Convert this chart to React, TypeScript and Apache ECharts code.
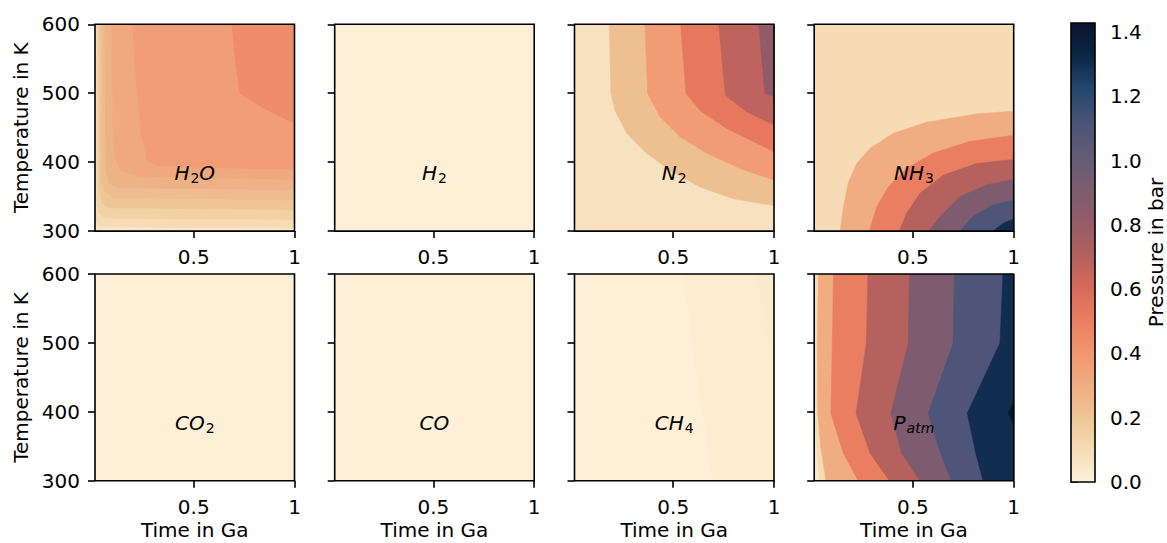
import React, { useEffect, useRef } from 'react';
import * as echarts from 'echarts';

// ---------- colour scale: Pressure in bar ----------
const pressureMin = 0;
const pressureMax = 1.428;
const colorbarTicks = [0, 0.2, 0.4, 0.6, 0.8, 1.0, 1.2, 1.4];
const colormap = ['#fdf1d8', '#f6dbb4', '#eec594', '#f0ac80', '#f29470', '#e97c5e', '#d4695a', '#b0605f', '#935b68', '#7a5c71', '#625a77', '#495378', '#23476d', '#0b2646', '#08152e'];

// ---------- axes ----------
const timeMin = 0.01;
const timeMax = 1;
const timeTicks = [0.5, 1];
const tempMin = 300;
const tempMax = 600;
const tempStep = 100;

// ---------- panels (value of each contour band, and band boundaries as [time, temperature]) ----------
const panelLabels = ['{i|H}{s|2}{i|O}', '{i|H}{s|2}', '{i|N}{s|2}', '{i|NH}{s|3}', '{i|CO}{s|2}', '{i|CO}', '{i|CH}{s|4}', '{i|P}{si|atm}'];

const h2oBands = [0.05, 0.1, 0.15, 0.2, 0.24, 0.28, 0.32, 0.37, 0.44];
const h2oBounds = [
  [[0.012, 600], [0.012, 330], [0.016, 312], [0.03, 307], [0.2, 306], [1, 305]],
  [[0.02, 600], [0.021, 345], [0.03, 326], [0.06, 319], [0.3, 318], [1, 317]],
  [[0.03, 600], [0.032, 360], [0.045, 340], [0.08, 334], [0.4, 333], [1, 331]],
  [[0.042, 600], [0.045, 375], [0.06, 356], [0.1, 349], [0.5, 347], [1, 345]],
  [[0.06, 600], [0.064, 390], [0.08, 370], [0.13, 363], [0.5, 362], [1, 360]],
  [[0.093, 600], [0.1, 450], [0.11, 405], [0.14, 388], [0.22, 380], [0.6, 377], [1, 375]],
  [[0.197, 600], [0.215, 520], [0.24, 440], [0.27, 402], [0.32, 395], [0.6, 392], [1, 390]],
  [[0.69, 600], [0.71, 540], [0.73, 500], [0.85, 478], [1, 456]],
];
const h2oClose = h2oBounds.map(() => [[1, 600]]);

const h2Bands = [0.005];
const h2Bounds: number[][][] = [];
const h2Close: number[][][] = [];

const n2Bands = [0.075, 0.225, 0.375, 0.525, 0.675, 0.825];
const n2Bounds = [
  [[0.183, 600], [0.191, 500], [0.211, 475], [0.269, 442], [0.368, 413], [0.484, 388], [0.633, 364], [0.798, 347], [1, 337]],
  [[0.36, 600], [0.373, 500], [0.434, 466], [0.533, 437], [0.666, 413], [0.831, 391], [1, 374]],
  [[0.537, 600], [0.563, 500], [0.633, 475], [0.765, 449], [0.897, 430], [1, 415]],
  [[0.726, 600], [0.759, 497], [0.865, 473], [1, 454]],
  [[0.925, 600], [0.955, 500], [1, 495]],
];
const n2Close = n2Bounds.map(() => [[1, 600]]);

const nh3Bands = [0.1, 0.3, 0.5, 0.7, 0.9, 1.1, 1.3];
const nh3Bounds = [
  [[0.139, 300], [0.155, 335], [0.18, 371], [0.221, 398], [0.287, 420], [0.403, 442], [0.568, 458], [0.815, 470], [1, 474]],
  [[0.284, 300], [0.32, 335], [0.378, 364], [0.469, 391], [0.6, 413], [0.782, 430], [1, 439]],
  [[0.432, 300], [0.469, 326], [0.535, 355], [0.65, 381], [0.815, 398], [1, 404]],
  [[0.581, 300], [0.634, 321], [0.733, 350], [0.865, 367], [1, 375]],
  [[0.733, 300], [0.799, 321], [0.897, 338], [1, 345]],
  [[0.897, 300], [0.947, 311], [1, 318]],
];
const nh3Close = nh3Bounds.map(() => [[1, 300]]);

const co2Bands = [0.006];
const co2Bounds: number[][][] = [];
const co2Close: number[][][] = [];

const coBands = [0.006];
const coBounds: number[][][] = [];
const coClose: number[][][] = [];

const ch4Bands = [0.006, 0.02, 0.032];
const ch4Bounds = [
  [[0.55, 600], [0.62, 450], [0.7, 300]],
  [[0.915, 600], [0.96, 520], [1, 460]],
];
const ch4Close = [[[1, 300], [1, 600]], [[1, 600]]];

const patmBands = [0.04, 0.1, 0.3, 0.5, 0.7, 0.9, 1.1, 1.3, 1.42];
const patmBounds = [
  [[0.01, 600], [0.01, 440], [0.02, 360], [0.035, 300]],
  [[0.031, 600], [0.026, 500], [0.028, 398], [0.042, 350], [0.069, 300]],
  [[0.106, 600], [0.1, 500], [0.093, 398], [0.155, 340], [0.229, 300]],
  [[0.277, 600], [0.269, 500], [0.218, 398], [0.287, 340], [0.383, 300]],
  [[0.482, 600], [0.477, 500], [0.39, 398], [0.444, 340], [0.535, 300]],
  [[0.706, 600], [0.7, 500], [0.576, 398], [0.637, 340], [0.692, 300]],
  [[0.947, 600], [0.932, 500], [0.77, 398], [0.812, 340], [0.848, 300]],
  [[1, 413], [0.971, 398], [1, 384]],
];
const patmClose = [
  [[1, 300], [1, 600]], [[1, 300], [1, 600]], [[1, 300], [1, 600]], [[1, 300], [1, 600]],
  [[1, 300], [1, 600]], [[1, 300], [1, 600]], [[1, 300], [1, 600]], [],
];

const panels = [
  { bands: h2oBands, bounds: h2oBounds, close: h2oClose },
  { bands: h2Bands, bounds: h2Bounds, close: h2Close },
  { bands: n2Bands, bounds: n2Bounds, close: n2Close },
  { bands: nh3Bands, bounds: nh3Bounds, close: nh3Close },
  { bands: co2Bands, bounds: co2Bounds, close: co2Close },
  { bands: coBands, bounds: coBounds, close: coClose },
  { bands: ch4Bands, bounds: ch4Bounds, close: ch4Close },
  { bands: patmBands, bounds: patmBounds, close: patmClose },
];

// ---------- layout ----------
const COL_LEFT = [95, 334.7, 574.5, 814.2];
const COL_W = 199.5;
const ROW_TOP = [24.3, 274];
const ROW_H = 206.8;
const CB = { left: 1071, top: 23, width: 24, height: 459 };

const FONT = 'DejaVu Sans';
const textStyle = { fontFamily: FONT, fontSize: 20, color: '#000' };
const nameStyle = { fontFamily: FONT, fontSize: 20, color: '#000', lineHeight: 16 };

function buildOption() {
  const grids: any[] = [];
  const xAxes: any[] = [];
  const yAxes: any[] = [];
  const series: any[] = [];
  const graphics: any[] = [];

  panels.forEach((p, i) => {
    const row = Math.floor(i / 4);
    const col = i % 4;
    grids.push({
      left: COL_LEFT[col], top: ROW_TOP[row], width: COL_W, height: ROW_H,
      show: true, borderColor: '#000', borderWidth: 1.6, backgroundColor: 'transparent', z: 10,
      containLabel: false, outerBoundsMode: 'none',
    });
    xAxes.push({
      type: 'value', gridIndex: i, min: timeMin, max: timeMax,
      axisLine: { show: false }, splitLine: { show: false },
      axisTick: { show: true, length: 7, customValues: timeTicks, lineStyle: { color: '#000', width: 1.6 } },
      axisLabel: { show: true, margin: 16, customValues: timeTicks, formatter: (v: number) => String(v), ...textStyle },
      name: row === 1 ? 'Time in Ga' : '', nameLocation: 'middle', nameGap: 41, nameTextStyle: nameStyle,
    });
    yAxes.push({
      type: 'value', gridIndex: i, min: tempMin, max: tempMax, interval: tempStep,
      axisLine: { show: false }, splitLine: { show: false },
      axisTick: { show: true, length: 7, lineStyle: { color: '#000', width: 1.6 } },
      axisLabel: { show: col === 0, margin: 15, ...textStyle },
      name: col === 0 ? 'Temperature in K' : '', nameLocation: 'middle', nameGap: 64, nameTextStyle: textStyle,
    });
    const base = [[timeMin, tempMin], [timeMin, tempMax], [timeMax, tempMax], [timeMax, tempMin]];
    const regions = [base, ...p.bounds.map((b, k) => [...b, ...p.close[k]])];
    series.push({
      type: 'custom', xAxisIndex: i, yAxisIndex: i, clip: true, z: 2,
      data: p.bands.map((v, k) => [k, v]),
      renderItem: (params: any, api: any) => {
        const k = api.value(0);
        const pts = regions[k].map((pt: number[]) => api.coord(pt));
        const c = api.visual('color');
        return { type: 'polygon', shape: { points: pts }, style: { fill: c, stroke: c, lineWidth: 0.6 } };
      },
    });
    graphics.push({
      type: 'text', z: 100,
      x: COL_LEFT[col] + COL_W / 2, y: ROW_TOP[row] + 149,
      style: {
        text: panelLabels[i], align: 'center', verticalAlign: 'middle',
        rich: {
          i: { fontFamily: FONT, fontStyle: 'italic', fontSize: 20, lineHeight: 22, color: '#000', verticalAlign: 'middle' },
          s: { fontFamily: FONT, fontSize: 14, lineHeight: 14, padding: [9, 0, 0, 1], color: '#000', verticalAlign: 'middle' },
          si: { fontFamily: FONT, fontStyle: 'italic', fontSize: 14, lineHeight: 14, padding: [9, 0, 0, 1], color: '#000', verticalAlign: 'middle' },
        },
      },
    });
  });

  // colour bar
  grids.push({ left: CB.left, top: CB.top, width: CB.width, height: CB.height, show: true, borderColor: '#000', borderWidth: 1.6, z: 10, containLabel: false, outerBoundsMode: 'none' });
  xAxes.push({ type: 'value', gridIndex: 8, min: 0, max: 1, show: false });
  yAxes.push({
    type: 'value', gridIndex: 8, position: 'right', min: pressureMin, max: pressureMax,
    axisLine: { show: false }, splitLine: { show: false },
    axisTick: { show: true, length: 7, customValues: colorbarTicks, lineStyle: { color: '#000', width: 1.6 } },
    axisLabel: { show: true, margin: 15, customValues: colorbarTicks, formatter: (v: number) => v.toFixed(1), ...textStyle },
    name: 'Pressure in bar', nameLocation: 'middle', nameGap: 53, nameTextStyle: nameStyle,
  });
  const stops = colormap.map((c, k) => ({ offset: k / (colormap.length - 1), color: c }));
  series.push({
    type: 'custom', xAxisIndex: 8, yAxisIndex: 8, z: 2,
    data: [[0, pressureMin]],
    renderItem: (params: any, api: any) => {
      const p0 = api.coord([0, pressureMin]);
      const p1 = api.coord([1, pressureMax]);
      return {
        type: 'rect',
        shape: { x: p0[0], y: p1[1], width: p1[0] - p0[0], height: p0[1] - p1[1] },
        style: { fill: new echarts.graphic.LinearGradient(0, 1, 0, 0, stops) },
      };
    },
  });

  return {
    animation: false,
    backgroundColor: '#ffffff',
    grid: grids,
    xAxis: xAxes,
    yAxis: yAxes,
    visualMap: {
      type: 'continuous', show: false, min: pressureMin, max: pressureMax, dimension: 1,
      seriesIndex: [0, 1, 2, 3, 4, 5, 6, 7],
      inRange: { color: colormap },
    },
    series,
    graphic: graphics,
  };
}

export default function App() {
  const ref = useRef<HTMLDivElement>(null);
  useEffect(() => {
    if (!ref.current) return;
    const chart = echarts.init(ref.current, undefined, { renderer: 'svg' });
    chart.setOption(buildOption() as any);
    return () => chart.dispose();
  }, []);
  return <div ref={ref} style={{ position: 'absolute', left: 0, top: 0, width: 1167, height: 543 }} />;
}
